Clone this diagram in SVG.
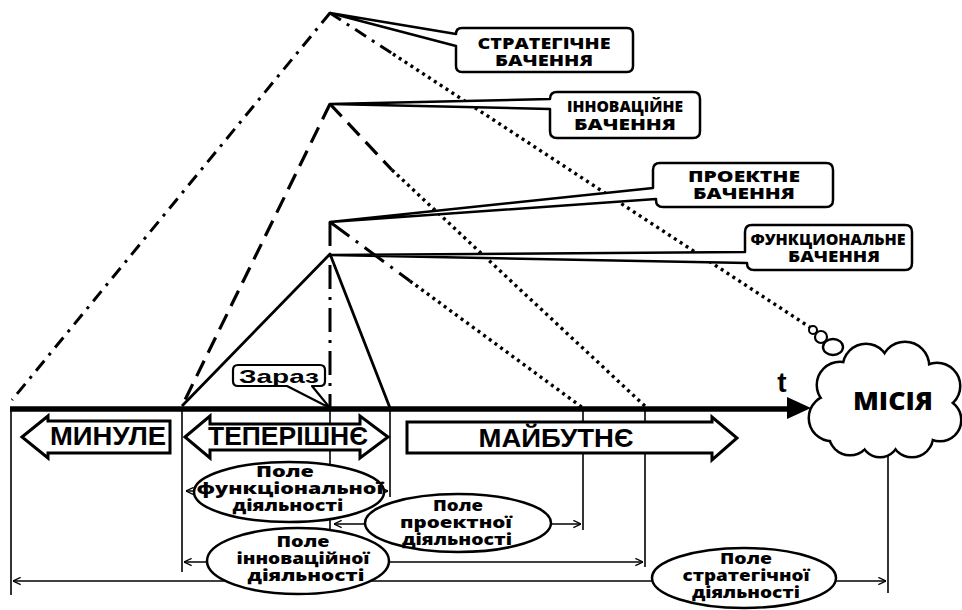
<svg xmlns="http://www.w3.org/2000/svg" width="962" height="610" viewBox="0 0 962 610">
<style>
.bg{fill:#fff}
.solid{stroke:#000;stroke-width:2.8;fill:none;stroke-linejoin:round}
.dashdot{stroke:#000;stroke-width:3;fill:none;stroke-dasharray:13 7 3 7}
.dashdot2{stroke:#000;stroke-width:3;fill:none;stroke-dasharray:24 8 3 8}
.dashed{stroke:#000;stroke-width:3.2;fill:none;stroke-dasharray:17 9}
.dotted{stroke:#000;stroke-width:3.4;fill:none;stroke-dasharray:3 4}
.thin{stroke:#000;stroke-width:1.6;fill:none}
.fld{stroke:#000;stroke-width:1.6;fill:none;marker-start:url(#chev);marker-end:url(#chev)}
.box{fill:#fff;stroke:#000;stroke-width:2.5;stroke-linejoin:round}
.arrowbox{fill:#fff;stroke:#000;stroke-width:3;stroke-linejoin:miter}
.ell{fill:#fff;stroke:#000;stroke-width:2.5}
.lbl{font-family:"Open Sans","DejaVu Sans",sans-serif;font-weight:800;font-size:16px;text-anchor:middle;fill:#000}
.big{font-family:"Liberation Sans",Arial,sans-serif;font-weight:700;font-size:25px;text-anchor:middle;fill:#000}
.cs{fill:#fff;stroke:#000;stroke-width:5}
.cf{fill:#fff;stroke:none}
</style>
<defs>
<marker id="chev" viewBox="0 0 10 10" refX="9.5" refY="5" markerWidth="9" markerHeight="9" markerUnits="userSpaceOnUse" orient="auto-start-reverse">
<path d="M1,1 L9.5,5 L1,9" fill="none" stroke="#000" stroke-width="1.5"/>
</marker>
<g id="cloudShape">
<circle cx="832" cy="418" r="22"/>
<circle cx="840" cy="385" r="22"/>
<circle cx="866" cy="367" r="22"/>
<circle cx="905" cy="366" r="23"/>
<circle cx="937" cy="386" r="22"/>
<circle cx="940" cy="420" r="20"/>
<circle cx="912" cy="436" r="20"/>
<circle cx="880" cy="438" r="18"/>
<circle cx="850" cy="434" r="20"/>
<ellipse cx="887" cy="402" rx="55" ry="38"/>
</g>
</defs>
<rect class="bg" x="0" y="0" width="962" height="610"/>

<g id="connectors">
<path class="dashdot" d="M330,13 L12,400"/>
<path class="dashdot" d="M330,13 L393,54"/>
<path class="dotted" d="M393,54 L811,328"/>
<path class="dashed" d="M330,104 L182,406"/>
<path class="dashed" d="M330,104 L392,170"/>
<path class="dotted" d="M392,170 L647,408"/>
<path class="dashdot2" d="M330,222 L330,408"/>
<path class="dashdot2" d="M330,222 L410,281"/>
<path class="dotted" d="M410,281 L583,408"/>
<path class="solid" d="M182,406 L330,254 L390,408"/>
<path class="thin" d="M11,410 V595"/>
<path class="thin" d="M182,410 V572"/>
<path class="thin" d="M330,410 V530"/>
<path class="thin" d="M390,410 V497"/>
<path class="thin" d="M583,410 V530"/>
<path class="thin" d="M645,410 V567"/>
<path class="thin" d="M888,452 V593"/>
<path class="fld" d="M186,491 H388"/>
<path class="fld" d="M334,524 H581"/>
<path class="fld" d="M184,562 H643"/>
<path class="fld" d="M13,581 H886"/>
<path d="M10,409 H792" stroke="#000" stroke-width="5.5" fill="none"/>
<polygon points="787,397 811,408 787,419" fill="#000"/>
</g>

<g id="t-label"><text x="782" y="392" class="big" style="font-size:28px">t</text></g>

<g id="strategic-vision">
<path class="box" d="M462,28 H627 Q633,28 633,34 V66 Q633,72 627,72 H462 Q456,72 456,66 V46 L330,13 L456,34 Q456,28 462,28 Z"/>
<text class="lbl" x="544" y="49" textLength="133" lengthAdjust="spacingAndGlyphs">СТРАТЕГІЧНЕ</text>
<text class="lbl" x="544" y="66" textLength="98" lengthAdjust="spacingAndGlyphs">БАЧЕННЯ</text>
</g>

<g id="innovation-vision">
<path class="box" d="M557,92 H693 Q700,92 700,99 V131 Q700,138 693,138 H557 Q550,138 550,131 V109 L330,104 L550,99 Q550,92 557,92 Z"/>
<text class="lbl" x="625" y="112" textLength="116" lengthAdjust="spacingAndGlyphs">ІННОВАЦІЙНЕ</text>
<text class="lbl" x="625" y="130" textLength="102" lengthAdjust="spacingAndGlyphs">БАЧЕННЯ</text>
</g>

<g id="project-vision">
<path class="box" d="M660,163 H826 Q833,163 833,170 V200 Q833,207 826,207 H663 Q656,207 656,200 V199 L330,222 L653,188 V170 Q653,163 660,163 Z"/>
<text class="lbl" x="744" y="182" textLength="112" lengthAdjust="spacingAndGlyphs">ПРОЕКТНЕ</text>
<text class="lbl" x="744" y="199" textLength="102" lengthAdjust="spacingAndGlyphs">БАЧЕННЯ</text>
</g>

<g id="functional-vision">
<path class="box" d="M752,225 H905 Q912,225 912,232 V263 Q912,270 905,270 H754 Q747,270 747,263 L330,255 L745,252 V232 Q745,225 752,225 Z"/>
<text class="lbl" x="828" y="245" textLength="155" lengthAdjust="spacingAndGlyphs">ФУНКЦИОНАЛЬНЕ</text>
<text class="lbl" x="834" y="262" textLength="92" lengthAdjust="spacingAndGlyphs">БАЧЕННЯ</text>
</g>

<g id="now">
<path class="box" style="stroke-width:2.2" d="M238,365 H320 Q325,365 325,370 V381 Q325,386 320,386 H312 L330,408 L287,386 H238 Q233,386 233,381 V370 Q233,365 238,365 Z"/>
<text class="big" x="279" y="383" style="font-size:19px" textLength="80" lengthAdjust="spacingAndGlyphs">Зараз</text>
</g>

<g id="past">
<polygon class="arrowbox" points="22,437 48,416 48,421 170,421 170,453 48,453 48,458"/>
<text class="big" x="108" y="445" textLength="116" lengthAdjust="spacingAndGlyphs">МИНУЛЕ</text>
</g>

<g id="present">
<polygon class="arrowbox" points="185,437 210,416 210,424 360,424 360,416 388,437 360,458 360,450 210,450 210,458"/>
<text class="big" x="288" y="445" textLength="160" lengthAdjust="spacingAndGlyphs">ТЕПЕРІШНЄ</text>
</g>

<g id="future">
<polygon class="arrowbox" points="407,422 712,422 712,417 737,438 712,460 712,453 407,453"/>
<text class="big" x="556" y="447" textLength="155" lengthAdjust="spacingAndGlyphs">МАЙБУТНЄ</text>
</g>

<g id="mission">
<circle cx="813" cy="330" r="4" fill="#fff" stroke="#000" stroke-width="2"/>
<circle cx="821" cy="337" r="6" fill="#fff" stroke="#000" stroke-width="2.2"/>
<ellipse cx="833" cy="347" rx="10" ry="8" fill="#fff" stroke="#000" stroke-width="2.4"/>
<use href="#cloudShape" class="cs"/>
<use href="#cloudShape" class="cf"/>
<text class="lbl" x="893" y="410" style="font-size:24px" textLength="80" lengthAdjust="spacingAndGlyphs">МІСІЯ</text>
</g>

<g id="field-functional">
<ellipse class="ell" cx="289" cy="492" rx="95" ry="30"/>
<text class="lbl" x="285" y="477" textLength="58" lengthAdjust="spacingAndGlyphs">Поле</text>
<text class="lbl" x="290" y="494" textLength="187" lengthAdjust="spacingAndGlyphs">функціональної</text>
<text class="lbl" x="288" y="511" textLength="111" lengthAdjust="spacingAndGlyphs">діяльності</text>
</g>

<g id="field-project">
<ellipse class="ell" cx="458" cy="523" rx="93" ry="29"/>
<text class="lbl" x="458" y="511" textLength="50" lengthAdjust="spacingAndGlyphs">Поле</text>
<text class="lbl" x="456" y="528" textLength="112" lengthAdjust="spacingAndGlyphs">проектної</text>
<text class="lbl" x="457" y="545" textLength="110" lengthAdjust="spacingAndGlyphs">діяльності</text>
</g>

<g id="field-innovation">
<ellipse class="ell" cx="298" cy="561" rx="91" ry="33"/>
<text class="lbl" x="303" y="547" textLength="53" lengthAdjust="spacingAndGlyphs">Поле</text>
<text class="lbl" x="303" y="564" textLength="133" lengthAdjust="spacingAndGlyphs">інноваційної</text>
<text class="lbl" x="306" y="581" textLength="117" lengthAdjust="spacingAndGlyphs">діяльності</text>
</g>

<g id="field-strategic">
<ellipse class="ell" cx="744" cy="578" rx="92" ry="30"/>
<text class="lbl" x="746" y="564" textLength="52" lengthAdjust="spacingAndGlyphs">Поле</text>
<text class="lbl" x="746" y="581" textLength="127" lengthAdjust="spacingAndGlyphs">стратегічної</text>
<text class="lbl" x="746" y="598" textLength="108" lengthAdjust="spacingAndGlyphs">діяльності</text>
</g>
</svg>
